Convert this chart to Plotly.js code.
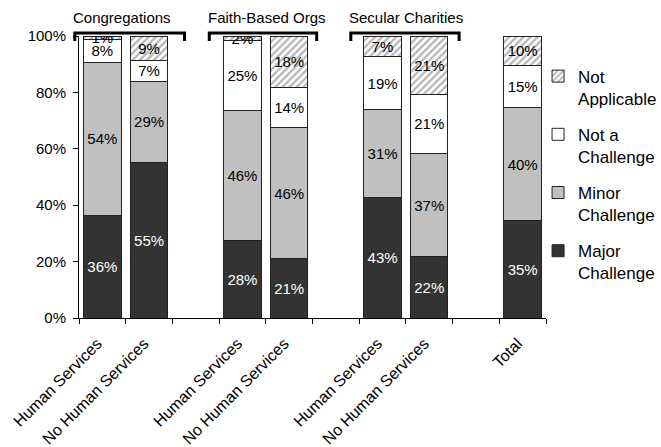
<!DOCTYPE html>
<html>
<head>
<meta charset="utf-8">
<script src="https://cdn.plot.ly/plotly-3.0.1.min.js"></script>
<style>html,body{margin:0;padding:0;background:#fff;}#chart{width:661px;height:447px;}</style>
</head>
<body>
<div id="chart"></div>
<script>
// ---- data ----
var positions = [0, 1, 3, 4, 6, 7, 9];
var barLabels = ['Human Services', 'No Human Services', 'Human Services', 'No Human Services', 'Human Services', 'No Human Services', 'Total'];
var majorChallenge = [36.4, 55.2, 27.6, 21.0, 42.6, 21.7, 34.6];
var minorChallenge = [54.3, 28.8, 46.1, 46.4, 31.2, 36.7, 40.0];
var notAChallenge = [8.1, 7.4, 24.6, 14.4, 19.0, 20.9, 15.1];
var notApplicable = [1.2, 8.6, 1.7, 18.2, 7.2, 20.7, 10.3];
var groupNames = ['Congregations', 'Faith-Based Orgs', 'Secular Charities'];
var groupStarts = [0, 3, 6];
var yTicks = [0, 20, 40, 60, 80, 100];
var yTickText = ['0%', '20%', '40%', '60%', '80%', '100%'];

var FONT = 'Liberation Sans, Arial, sans-serif';
var xMin = -0.5, xMax = 9.5;

function barTrace(name, legendName, rank, vals, color, textColor, pattern) {
  var m = {color: color, line: {color: '#222', width: 1}};
  if (pattern) m.pattern = pattern;
  return {
    type: 'bar', x: positions, y: vals, name: legendName, legendgroup: name, legendrank: rank,
    marker: m,
    texttemplate: '%{y:.0f}%', textposition: 'inside', insidetextanchor: 'middle',
    textangle: 0, constraintext: 'none',
    textfont: {family: FONT, size: 15, color: textColor},
    hoverinfo: 'skip'
  };
}

var traces = [
  barTrace('major', 'Major<br>Challenge', 4, majorChallenge, '#333333', '#ffffff'),
  barTrace('minor', 'Minor<br>Challenge', 3, minorChallenge, '#c0c0c0', '#000000'),
  barTrace('not', 'Not a<br>Challenge', 2, notAChallenge, '#ffffff', '#000000'),
  barTrace('na', 'Not<br>Applicable', 1, notApplicable, '#ffffff', '#000000',
    {shape: '/', fgcolor: '#b5b5b5', bgcolor: '#ffffff', size: 5, solidity: 0.45})
];

function toPaper(x) { return (x - xMin) / (xMax - xMin); }

// bracket extents relative to each group's centre (layout only)
var bracketLeftOff = [-1.09, -1.21, -1.18];
var bracketRightOff = [1.26, 1.09, 1.14];

var shapes = [], annotations = [];
var yTop = 1.0106, yLeg = 0.982;
groupStarts.forEach(function (g, i) {
  var c = g + 0.5;
  var l = toPaper(c + bracketLeftOff[i]), r = toPaper(c + bracketRightOff[i]);
  shapes.push({type: 'path', xref: 'paper', yref: 'paper',
    path: 'M' + l + ',' + yLeg + ' L' + l + ',' + yTop + ' L' + r + ',' + yTop + ' L' + r + ',' + yLeg,
    line: {color: '#000', width: 3}});
  annotations.push({xref: 'paper', yref: 'paper', x: l - 0.008, y: 1.066, xanchor: 'left', yanchor: 'middle',
    text: groupNames[i], showarrow: false, font: {family: FONT, size: 15, color: '#000'}});
});

var layout = {
  width: 661, height: 447,
  margin: {l: 79, r: 115, t: 36, b: 129, pad: 0, autoexpand: false},
  paper_bgcolor: '#fff', plot_bgcolor: '#fff',
  font: {family: FONT, size: 15, color: '#000'},
  barmode: 'stack', bargap: 0.2,
  showlegend: true,
  uniformtext: {mode: 'show', minsize: 15},
  legend: {x: 0.983, xanchor: 'left', y: 0.92, yanchor: 'top', traceorder: 'grouped',
    tracegroupgap: 11, valign: 'top', font: {family: FONT, size: 17, color: '#000'},
    bgcolor: 'rgba(0,0,0,0)'},
  xaxis: {
    range: [xMin, xMax], tickmode: 'array', tickvals: positions, ticktext: barLabels,
    tickangle: -45, ticks: '', showgrid: false, zeroline: false,
    showline: true, linecolor: '#000', linewidth: 1,
    ticklabelstandoff: 9, ticklabelshift: -5,
    tickfont: {family: FONT, size: 16, color: '#000'},
    minor: {tickmode: 'linear', tick0: -0.5, dtick: 1, ticks: 'outside', ticklen: 5, tickcolor: '#000', tickwidth: 1, showgrid: false}
  },
  yaxis: {
    range: [0, 100], tickmode: 'array', tickvals: yTicks, ticktext: yTickText,
    ticks: 'outside', ticklen: 5, tickcolor: '#000', showgrid: false, zeroline: false,
    showline: true, linecolor: '#000', linewidth: 1,
    ticklabelstandoff: 4,
    tickfont: {family: FONT, size: 15, color: '#000'}
  },
  shapes: shapes,
  annotations: annotations
};

Plotly.newPlot('chart', traces, layout, {displayModeBar: false, staticPlot: true});
</script>
</body>
</html>
